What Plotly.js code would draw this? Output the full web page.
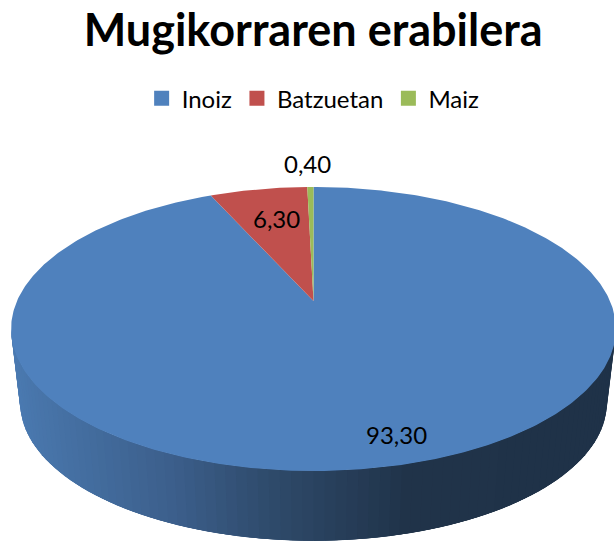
<!DOCTYPE html>
<html><head><meta charset="utf-8">
<script src="https://cdn.plot.ly/plotly-3.0.1.min.js"></script>
<style>html,body{margin:0;padding:0;background:#fff}#c{width:614px;height:542px}</style>
</head><body><div id="c"></div>
<script>
const categories = ["Inoiz", "Batzuetan", "Maiz"];
const values = [93.3, 6.3, 0.4];
const sliceColors = ["#4f81bd", "#c0504d", "#9bbb59"];
const labelSpots = [[396, 434], [276, 218], [307, 163]];
const titleText = "Mugikorraren erabilera";

// Perspective projection of the pie's disc onto the page
const fontName = "Lato, Carlito, sans-serif";
const cx = 313.5, cy = 301, k = 0.197, a = 136.5, b = 296.5;
const depthY = 75, depthScale = 0.97;
function project(t, level) {            // t: clockwise radians from 12 o'clock
  const u = Math.sin(t), v = Math.cos(t), d = 1 + k * v;
  const s = level ? depthScale : 1;
  return [cx + s * b * u / d, cy + (level ? depthY : 0) - s * a * v / d];
}
const shadeStops = [[0, [76, 124, 180]], [100, [68, 110, 160]], [200, [60, 95, 140]],
                    [300, [47, 75, 108]], [440, [32, 51, 73]], [614, [31, 50, 72]]];
function shade(x) {
  for (let i = 1; i < shadeStops.length; i++) {
    if (x <= shadeStops[i][0]) {
      const [x0, c0] = shadeStops[i - 1], [x1, c1] = shadeStops[i];
      const f = Math.max(0, (x - x0) / (x1 - x0));
      return "rgb(" + c0.map((c, j) => Math.round(c + f * (c1[j] - c))).join(",") + ")";
    }
  }
  return "rgb(31,50,72)";
}

const traces = [];
// side wall: bands overlap the next one so no seams show
const t0 = Math.PI - Math.acos(k), n = 90, span = 2 * Math.acos(k);
for (let i = n - 1; i >= 0; i--) {
  const t1 = t0 + (i / n) * span;
  const t2 = t0 + (Math.min(n, i + 4) / n) * span;
  const p = [project(t1, 0), project(t2, 0), project(t2, 1), project(t1, 1)];
  const mid = project(t0 + ((i + 0.5) / n) * span, 0);
  const col = shade(mid[0]);
  traces.push({type: "scatter", mode: "lines", x: p.map(q => q[0]).concat(p[0][0]),
    y: p.map(q => q[1]).concat(p[0][1]), fill: "toself", fillcolor: col,
    line: {color: col, width: 0}, showlegend: false, hoverinfo: "skip"});
}
// top face slices, driven by the values
const total = values.reduce((s, x) => s + x, 0);
let acc = 0;
values.forEach((val, i) => {
  const start = acc / total * 2 * Math.PI, end = (acc + val) / total * 2 * Math.PI;
  acc += val;
  const steps = Math.max(3, Math.ceil((end - start) * 80));
  const xs = [cx], ys = [cy];
  for (let j = 0; j <= steps; j++) {
    const q = project(start + (end - start) * j / steps, 0);
    xs.push(q[0]); ys.push(q[1]);
  }
  xs.push(cx); ys.push(cy);
  traces.push({type: "scatter", mode: "lines", x: xs, y: ys, fill: "toself",
    fillcolor: sliceColors[i], line: {color: sliceColors[i], width: 0},
    showlegend: false, hoverinfo: "skip", name: categories[i]});
});
// legend entries
categories.forEach((name, i) => traces.push({type: "scatter", mode: "markers", name,
  x: [null], y: [null], marker: {symbol: "square", size: 15, color: sliceColors[i]}}));

const annotations = values.map((val, i) => ({
  x: labelSpots[i][0], y: labelSpots[i][1], xref: "x", yref: "y", showarrow: false,
  text: val.toFixed(2).replace(".", ","), font: {family: fontName, size: 24, color: "#000"}
}));

Plotly.newPlot("c", traces, {
  width: 614, height: 542, margin: {l: 0, r: 0, t: 0, b: 0},
  paper_bgcolor: "#fff", plot_bgcolor: "#fff",
  title: {text: "<b>" + titleText + "</b>", x: 0.51, xanchor: "center", y: 0.945, yanchor: "middle",
    font: {family: fontName, size: 45, color: "#000"}},
  xaxis: {range: [0, 614], visible: false, fixedrange: true},
  yaxis: {range: [542, 0], visible: false, fixedrange: true},
  showlegend: true,
  legend: {orientation: "h", x: 0.51, xanchor: "center", y: 0.818, yanchor: "middle",
    font: {family: fontName, size: 24, color: "#000"}, itemclick: false, itemdoubleclick: false},
  annotations
}, {displayModeBar: false});
</script></body></html>
